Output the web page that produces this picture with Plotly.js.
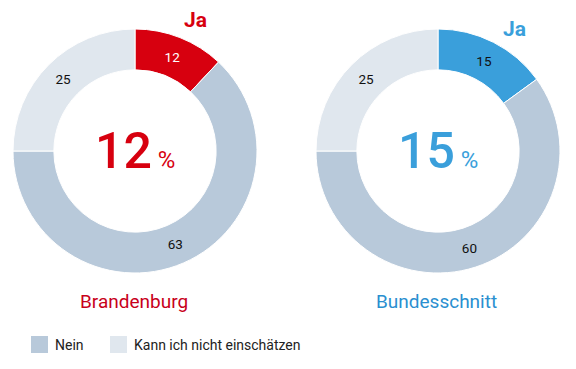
<!DOCTYPE html>
<html><head><meta charset="utf-8">
<script src="https://cdn.plot.ly/plotly-3.0.1.min.js"></script>
<style>html,body{margin:0;padding:0;background:#fff}#c{width:576px;height:369px}</style>
</head><body><div id="c"></div>
<script>
const categories = ["Ja", "Nein", "Kann ich nicht einschätzen"];
const regions = ["Brandenburg", "Bundesschnitt"];
const brandenburg = [12, 63, 25];
const bundesschnitt = [15, 60, 25];
const legendLabels = ["Nein", "Kann ich nicht einschätzen"];

const jaColors = ["#d7000f", "#3a9fdb"];
const titleColors = ["#c8001a", "#2a8fd0"];
const neinColor = "#b8c9da";
const kannColor = "#e0e7ee";
const W = 576, H = 369;
const px = v => v / W, py = v => 1 - v / H;

const series = [brandenburg, bundesschnitt];
const centersX = [135, 438];
const cy = 151, R = 122;

const traces = series.map((vals, i) => ({
  type: "pie",
  values: vals,
  labels: categories,
  sort: false,
  direction: "clockwise",
  rotation: 0,
  hole: 0.665,
  marker: {colors: [jaColors[i], neinColor, kannColor], line: {color: "#ffffff", width: 1}},
  textinfo: "value",
  textposition: "inside",
  insidetextorientation: "horizontal",
  textfont: {family: "Roboto", size: 13.5, color: [i === 0 ? "#ffffff" : "#111111", "#111111", "#111111"]},
  hoverinfo: "label+value",
  showlegend: false,
  domain: {x: [px(centersX[i] - R), px(centersX[i] + R)], y: [py(cy + R), py(cy - R)]}
}));

const annotations = [];
const shapes = [];
const titleX = [134, 436];
series.forEach((vals, i) => {
  annotations.push({
    x: px(centersX[i]), y: py(cy), xref: "paper", yref: "paper",
    text: vals[0] + "<span style='font-size:24px;font-weight:400'> %</span>",
    showarrow: false, font: {family: "Roboto", size: 50, weight: 500, color: jaColors[i]},
    xanchor: "center", yanchor: "middle"
  });
  annotations.push({
    x: px(titleX[i]), y: py(301), xref: "paper", yref: "paper",
    text: regions[i], showarrow: false,
    font: {family: "Roboto", size: 19, color: titleColors[i]},
    xanchor: "center", yanchor: "middle"
  });
});
annotations.push({x: px(195), y: py(20), xref: "paper", yref: "paper", text: "<b>" + categories[0] + "</b>",
  showarrow: false, font: {family: "Roboto", size: 21, color: jaColors[0]}, xanchor: "center", yanchor: "middle"});
annotations.push({x: px(514), y: py(29), xref: "paper", yref: "paper", text: "<b>" + categories[0] + "</b>",
  showarrow: false, font: {family: "Roboto", size: 21, color: jaColors[1]}, xanchor: "center", yanchor: "middle"});

const legX = [31, 110];
const legC = [neinColor, kannColor];
legendLabels.forEach((t, k) => {
  shapes.push({type: "rect", xref: "paper", yref: "paper", x0: px(legX[k]), x1: px(legX[k] + 17),
    y0: py(353), y1: py(336), fillcolor: legC[k], line: {width: 0}});
  annotations.push({x: px(legX[k] + 22), y: py(345), xref: "paper", yref: "paper", text: t,
    showarrow: false, font: {family: "Roboto", size: 14, color: "#222222"}, xanchor: "left", yanchor: "middle"});
});

Plotly.newPlot("c", traces, {
  width: W, height: H, margin: {l: 0, r: 0, t: 0, b: 0},
  paper_bgcolor: "#ffffff", plot_bgcolor: "#ffffff",
  annotations: annotations, shapes: shapes, showlegend: false
}, {displayModeBar: false, staticPlot: true});
</script></body></html>
